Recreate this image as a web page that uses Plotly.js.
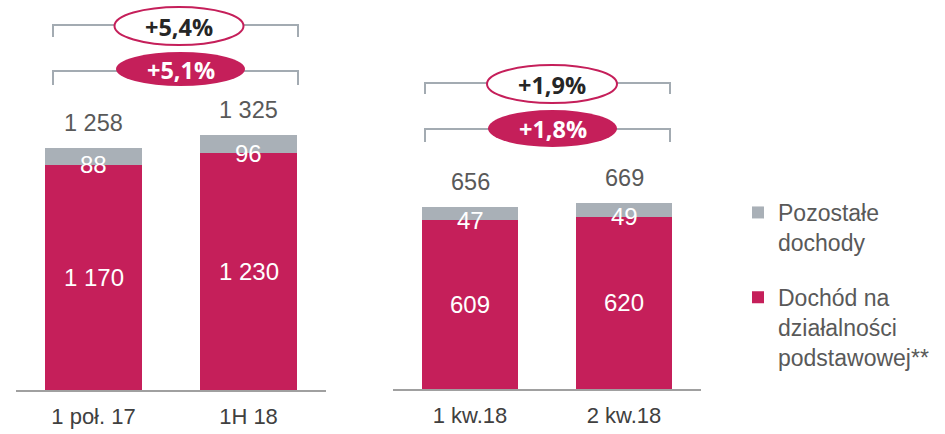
<!DOCTYPE html>
<html>
<head>
<meta charset="utf-8">
<script src="https://cdn.plot.ly/plotly-3.0.1.min.js"></script>
<style>html,body{margin:0;padding:0;background:#fff;}#chart{width:945px;height:434px;}</style>
</head>
<body>
<div id="chart"></div>
<script>
// ---- data ----
const categoriesA = ['1 poł. 17', '1H 18'];
const categoriesB = ['1 kw.18', '2 kw.18'];
const coreA = [1170, 1230];
const otherA = [88, 96];
const totalA = [1258, 1325];
const coreB = [609, 620];
const otherB = [47, 49];
const totalB = [656, 669];
const growthA = ['+5,4%', '+5,1%'];
const growthB = ['+1,9%', '+1,8%'];
const seriesNames = ['Dochód na<br>działalności<br>podstawowej**', 'Pozostałe<br>dochody'];

// ---- style ----
const W = 945, H = 434;
const CRIMSON = '#c51f5a';
const GREY = '#a9b0b7';
const BRACKET = '#a3abb2';
const FONT = 'Liberation Sans, Arial, sans-serif';
const PCTFONT = 'Open Sans, sans-serif';

const fmt = n => String(n).replace(/\B(?=(\d{3})+(?!\d))/g, ' ');
const px = x => x / W;
const py = y => 1 - y / H;

const traces = [
  {type: 'bar', x: categoriesA, y: coreA, name: seriesNames[0], marker: {color: CRIMSON},
   xaxis: 'x', yaxis: 'y', legendgroup: 'core', legendrank: 2, hoverinfo: 'skip'},
  {type: 'bar', x: categoriesA, y: otherA, name: seriesNames[1], marker: {color: GREY},
   xaxis: 'x', yaxis: 'y', legendgroup: 'other', legendrank: 1, hoverinfo: 'skip'},
  {type: 'bar', x: categoriesB, y: coreB, name: seriesNames[0], marker: {color: CRIMSON},
   xaxis: 'x2', yaxis: 'y2', legendgroup: 'core', legendrank: 2, showlegend: false, hoverinfo: 'skip'},
  {type: 'bar', x: categoriesB, y: otherB, name: seriesNames[1], marker: {color: GREY},
   xaxis: 'x2', yaxis: 'y2', legendgroup: 'other', legendrank: 1, showlegend: false, hoverinfo: 'skip'}
];

const annotations = [];
function addLabels(cats, core, other, total, xr, yr) {
  cats.forEach((c, i) => {
    annotations.push({x: c, y: total[i], xref: xr, yref: yr, text: fmt(total[i]), showarrow: false,
      yanchor: 'middle', yshift: 25, font: {family: FONT, size: 23.5, color: '#595959'}});
    annotations.push({x: c, y: core[i], xref: xr, yref: yr, text: fmt(other[i]), showarrow: false,
      yanchor: 'middle', font: {family: FONT, size: 24, color: '#ffffff'}});
    annotations.push({x: c, y: core[i] / 2, xref: xr, yref: yr, text: fmt(core[i]), showarrow: false,
      yanchor: 'middle', font: {family: FONT, size: 24, color: '#ffffff'}});
  });
}
addLabels(categoriesA, coreA, otherA, totalA, 'x', 'y');
addLabels(categoriesB, coreB, otherB, totalB, 'x2', 'y2');

const shapes = [];
// bracket: [xLeft, xRight, yLine, yTick], ellipse: [cx, cy, w, h]
const badges = [
  {br: [53, 298, 25, 37], el: [179, 26, 129, 38], filled: false, text: growthA[0]},
  {br: [53, 298, 71, 85], el: [180.5, 69, 129, 34], filled: true, text: growthA[1]},
  {br: [425, 670, 83, 94], el: [552, 84, 130, 38], filled: false, text: growthB[0]},
  {br: [425, 670, 129, 142], el: [552.5, 128.5, 129, 37], filled: true, text: growthB[1]}
];
badges.forEach(b => {
  const [x0, x1, yl, yt] = b.br;
  shapes.push({type: 'path', xref: 'paper', yref: 'paper',
    path: `M${px(x0)},${py(yt)} L${px(x0)},${py(yl)} L${px(x1)},${py(yl)} L${px(x1)},${py(yt)}`,
    line: {color: BRACKET, width: 2}});
  const [cx, cy, w, h] = b.el;
  shapes.push({type: 'circle', xref: 'paper', yref: 'paper',
    x0: px(cx - w / 2), x1: px(cx + w / 2), y0: py(cy + h / 2), y1: py(cy - h / 2),
    fillcolor: b.filled ? CRIMSON : '#ffffff',
    line: {color: CRIMSON, width: b.filled ? 0 : 2}});
  annotations.push({x: px(cx), y: py(cy + 1), xref: 'paper', yref: 'paper', text: '<b>' + b.text + '</b>',
    showarrow: false, xanchor: 'center', yanchor: 'middle',
    font: {family: PCTFONT, size: 23.5, color: b.filled ? '#ffffff' : '#262626'}});
});

const xaxisCommon = {type: 'category', range: [-0.5, 1.5], showline: true, linecolor: '#a0a0a0', linewidth: 2,
  ticks: '', showgrid: false, zeroline: false, fixedrange: true, ticklabelstandoff: 6,
  tickfont: {family: FONT, size: 22, color: '#404040'}};
const yaxisCommon = {visible: false, showgrid: false, zeroline: false, fixedrange: true};

const layout = {
  width: W, height: H,
  margin: {l: 0, r: 0, t: 0, b: 0},
  paper_bgcolor: '#ffffff', plot_bgcolor: 'rgba(0,0,0,0)',
  barmode: 'stack', bargap: 0.375,
  showlegend: true,
  legend: {x: px(738), y: py(191), xanchor: 'left', yanchor: 'top', traceorder: 'grouped',
    tracegroupgap: 22, valign: 'top', font: {family: FONT, size: 23, color: '#595959'},
    bgcolor: 'rgba(0,0,0,0)', borderwidth: 0},
  xaxis: Object.assign({}, xaxisCommon, {domain: [px(16), px(326)], anchor: 'y'}),
  yaxis: Object.assign({}, yaxisCommon, {domain: [(H - 390) / H, 1], range: [0, 390 / 0.1924], anchor: 'x'}),
  xaxis2: Object.assign({}, xaxisCommon, {domain: [px(393), px(701)], anchor: 'y2'}),
  yaxis2: Object.assign({}, yaxisCommon, {domain: [(H - 389) / H, 1], range: [0, 389 / 0.2775], anchor: 'x2'}),
  annotations: annotations,
  shapes: shapes
};

Plotly.newPlot('chart', traces, layout, {displayModeBar: false, staticPlot: true});
</script>
</body>
</html>
